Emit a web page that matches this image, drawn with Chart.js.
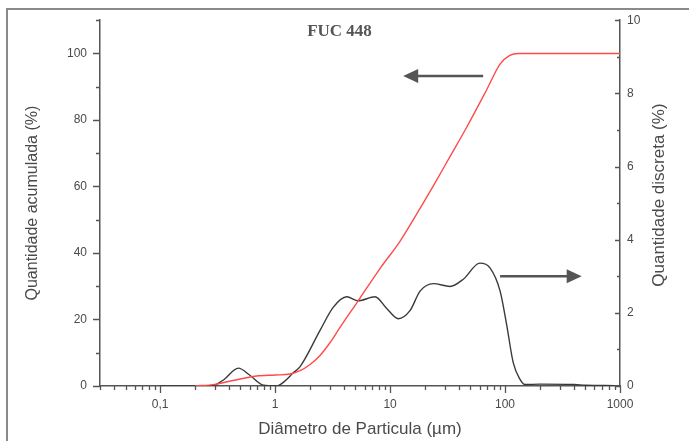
<!DOCTYPE html>
<html>
<head>
<meta charset="utf-8">
<script src="https://cdn.jsdelivr.net/npm/chart.js@4"></script>
<style>
  body { margin: 0; background: #fff; }
</style>
</head>
<body>
<canvas id="myChart" width="689" height="441"></canvas>
<script>
// particle size (µm) and cumulative amount (%) - red curve, left axis
const sizeCum = [0.2, 0.3, 0.41, 0.55, 0.69, 1.0, 1.35, 1.65, 2.0, 2.46, 3.0, 3.67, 5.3, 8.2, 12.2, 18.3, 23.8, 33, 46.4, 69.3, 90.5, 110, 130, 1000];
const cumValues = [0, 0.5, 1.5, 2.4, 3.0, 3.3, 3.6, 4.6, 6.4, 9.2, 13, 17.6, 25.7, 35.4, 43.5, 53.5, 60.2, 68.8, 77.8, 89.1, 96.8, 99.4, 100, 100];

// particle size (µm) and discrete amount (%) - black curve, right axis
const sizeDisc = [0.1, 0.28, 0.35, 0.48, 0.6, 0.79, 1.03, 1.2, 1.44, 1.65, 2.46, 3.2, 4.2, 5.3, 7.4, 9.4, 11.8, 14.9, 18.3, 23.8, 33.2, 43.4, 60.4, 74, 90.5, 103, 118, 135, 149, 200, 400, 500, 900];
const discValues = [0, 0, 0.15, 0.49, 0.3, 0.02, 0, 0.12, 0.36, 0.53, 1.52, 2.15, 2.44, 2.33, 2.44, 2.11, 1.84, 2.06, 2.6, 2.8, 2.72, 2.92, 3.36, 3.23, 2.6, 1.7, 0.63, 0.18, 0.04, 0.05, 0.04, 0.02, 0.01];

// tick labels
const xMajorTicks = [0.1, 1, 10, 100, 1000];
const xTickLabels = ['0,1', '1', '10', '100', '1000'];
const yLeftLabels = [0, 20, 40, 60, 80, 100];
const yRightLabels = [0, 2, 4, 6, 8, 10];

const axisColor = '#555555';
const textColor = '#4a4a4a';
const fontFamily = "Arial, 'Liberation Sans', sans-serif";

// minor + major ticks of the log axis
const xTicks = [];
for (let e = -2; e <= 3; e++) {
    for (let m = 1; m <= 9; m++) {
        const v = m * Math.pow(10, e);
        if (v >= 0.03 - 1e-9 && v <= 1000 + 1e-9) xTicks.push(v);
    }
}

function majorIndex(list, value) {
    return list.findIndex(v => Math.abs(v - value) <= Math.abs(v) * 1e-6 + 1e-9);
}

const frameAndText = {
    id: 'frameAndText',
    beforeDraw(chart) {
        const ctx = chart.ctx;
        ctx.save();
        ctx.strokeStyle = '#8a8a8a';
        ctx.lineWidth = 2;
        ctx.beginPath();
        ctx.moveTo(7, 441);
        ctx.lineTo(7, 9);
        ctx.lineTo(689, 9);
        ctx.stroke();
        ctx.restore();
    },
    afterDraw(chart) {
        const {ctx, chartArea: a, scales} = chart;
        ctx.save();
        // tick marks
        ctx.strokeStyle = axisColor;
        ctx.lineWidth = 1.3;
        ctx.beginPath();
        scales.x.ticks.forEach(t => {
            const px = Math.round(scales.x.getPixelForValue(t.value)) + 0.5;
            const len = t.label ? 7 : 4;
            ctx.moveTo(px, a.bottom);
            ctx.lineTo(px, a.bottom + len);
        });
        scales.y.ticks.forEach(t => {
            const py = Math.round(scales.y.getPixelForValue(t.value)) + 0.5;
            const len = t.label !== '' ? 7 : 4;
            ctx.moveTo(a.left - len, py);
            ctx.lineTo(a.left, py);
        });
        scales.y1.ticks.forEach(t => {
            const py = Math.round(scales.y1.getPixelForValue(t.value)) + 0.5;
            const len = t.label !== '' ? 5 : 3;
            ctx.moveTo(a.right - len, py);
            ctx.lineTo(a.right, py);
        });
        ctx.stroke();

        // arrows pointing to each curve's axis
        function arrow(x1, y1, x2, y2) {
            const dir = Math.sign(x2 - x1);
            ctx.strokeStyle = '#555555';
            ctx.fillStyle = '#555555';
            ctx.lineWidth = 2.5;
            ctx.beginPath();
            ctx.moveTo(x1, y1);
            ctx.lineTo(x2 - dir * 14, y2);
            ctx.stroke();
            ctx.beginPath();
            ctx.moveTo(x2, y2);
            ctx.lineTo(x2 - dir * 15, y2 - 7);
            ctx.lineTo(x2 - dir * 15, y2 + 7);
            ctx.closePath();
            ctx.fill();
        }
        const yl = scales.y.getPixelForValue(93.2);
        arrow(scales.x.getPixelForValue(64.5), yl, scales.x.getPixelForValue(13), yl);
        const yr = scales.y1.getPixelForValue(3.0);
        arrow(scales.x.getPixelForValue(90.5), yr, scales.x.getPixelForValue(464), yr);

        // sample name
        ctx.fillStyle = '#555555';
        ctx.font = "bold 17px 'Liberation Serif', 'Times New Roman', serif";
        ctx.textAlign = 'center';
        ctx.textBaseline = 'middle';
        ctx.fillText('FUC 448', 339.5, 32);

        // right axis title, reading bottom to top like the left one
        ctx.fillStyle = textColor;
        ctx.font = '17px ' + fontFamily;
        ctx.translate(659, (a.top + a.bottom) / 2 - 8);
        ctx.rotate(-Math.PI / 2);
        ctx.fillText('Quantidade discreta (%)', 0, 0);
        ctx.restore();
    }
};

const ctx = document.getElementById('myChart').getContext('2d');
const myChart = new Chart(ctx, {
    type: 'line',
    data: {
        datasets: [{
            label: 'Quantidade acumulada',
            data: sizeCum.map((s, i) => ({x: s, y: cumValues[i]})),
            yAxisID: 'y',
            borderColor: '#ff4a4a',
            borderWidth: 1.4,
            pointRadius: 0,
            cubicInterpolationMode: 'monotone',
            fill: false
        }, {
            label: 'Quantidade discreta',
            data: sizeDisc.map((s, i) => ({x: s, y: discValues[i]})),
            yAxisID: 'y1',
            borderColor: '#3a3a3a',
            borderWidth: 1.4,
            pointRadius: 0,
            cubicInterpolationMode: 'monotone',
            fill: false
        }]
    },
    options: {
        responsive: false,
        animation: false,
        devicePixelRatio: 1,
        layout: { padding: { top: 16, left: 0, right: 0, bottom: 0 } },
        plugins: {
            legend: { display: false },
            tooltip: { enabled: false }
        },
        scales: {
            x: {
                type: 'logarithmic',
                min: 0.03,
                max: 1000,
                afterBuildTicks(scale) {
                    scale.ticks = xTicks.map(v => ({value: v}));
                },
                afterFit(scale) { scale.height = 55; },
                grid: { display: true, drawOnChartArea: false, drawTicks: false },
                border: { display: true, color: axisColor, width: 1.5 },
                ticks: {
                    autoSkip: false,
                    maxRotation: 0,
                    padding: 11,
                    color: textColor,
                    font: { family: fontFamily, size: 12 },
                    callback(value) {
                        const i = majorIndex(xMajorTicks, value);
                        return i >= 0 ? xTickLabels[i] : '';
                    }
                },
                title: {
                    display: true,
                    text: 'Diâmetro de Particula (µm)',
                    color: textColor,
                    font: { family: fontFamily, size: 17 },
                    padding: { top: 0, bottom: 1 }
                }
            },
            y: {
                position: 'left',
                min: 0,
                max: 110,
                afterFit(scale) { scale.width = 100; },
                grid: { display: true, drawOnChartArea: false, drawTicks: false },
                border: { display: true, color: axisColor, width: 1.5 },
                ticks: {
                    stepSize: 10,
                    autoSkip: false,
                    padding: 13,
                    color: textColor,
                    font: { family: fontFamily, size: 12 },
                    callback(value) {
                        return majorIndex(yLeftLabels, value) >= 0 ? String(value) : '';
                    }
                },
                title: {
                    display: true,
                    text: 'Quantidade acumulada (%)',
                    color: textColor,
                    font: { family: fontFamily, size: 16 },
                    padding: { top: 23, bottom: 0 }
                }
            },
            y1: {
                position: 'right',
                min: 0,
                max: 10,
                afterFit(scale) { scale.width = 69; },
                grid: { display: true, drawOnChartArea: false, drawTicks: false },
                border: { display: true, color: axisColor, width: 1.5 },
                ticks: {
                    stepSize: 1,
                    autoSkip: false,
                    padding: 7,
                    color: textColor,
                    font: { family: fontFamily, size: 12 },
                    callback(value) {
                        return majorIndex(yRightLabels, value) >= 0 ? String(value) : '';
                    }
                },
                title: { display: false }
            }
        }
    },
    plugins: [frameAndText]
});
</script>
</body>
</html>
